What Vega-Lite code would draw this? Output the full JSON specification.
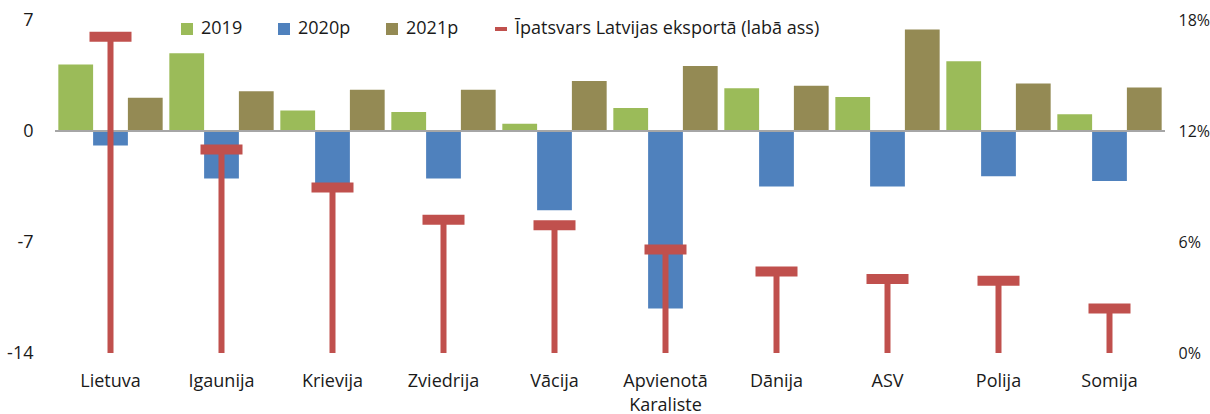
{
  "$schema": "https://vega.github.io/schema/vega-lite/v6.json",
  "width": 1110,
  "height": 333,
  "autosize": "none",
  "padding": {"left": 55, "top": 20, "right": 45, "bottom": 61},
  "config": {
    "font": "Open Sans",
    "view": {"stroke": null},
    "axis": {"labelFontSize": 18, "labelColor": "#1a1a1a", "domain": false, "ticks": false, "grid": false, "title": null, "labelFont": "Open Sans"},
    "legend": {"labelFontSize": 18, "labelColor": "#1a1a1a", "labelFont": "Open Sans", "labelLimit": 500}
  },
  "datasets": {
    "growth": [
      {"country": "Lietuva", "year": "2019", "value": 4.2},
      {"country": "Lietuva", "year": "2020p", "value": -0.92},
      {"country": "Lietuva", "year": "2021p", "value": 2.1},
      {"country": "Igaunija", "year": "2019", "value": 4.9},
      {"country": "Igaunija", "year": "2020p", "value": -3.0},
      {"country": "Igaunija", "year": "2021p", "value": 2.5},
      {"country": "Krievija", "year": "2019", "value": 1.3},
      {"country": "Krievija", "year": "2020p", "value": -3.5},
      {"country": "Krievija", "year": "2021p", "value": 2.6},
      {"country": "Zviedrija", "year": "2019", "value": 1.2},
      {"country": "Zviedrija", "year": "2020p", "value": -3.0},
      {"country": "Zviedrija", "year": "2021p", "value": 2.6},
      {"country": "Vācija", "year": "2019", "value": 0.45},
      {"country": "Vācija", "year": "2020p", "value": -5.0},
      {"country": "Vācija", "year": "2021p", "value": 3.15},
      {"country": "Apvienotā Karaliste", "year": "2019", "value": 1.45},
      {"country": "Apvienotā Karaliste", "year": "2020p", "value": -11.2},
      {"country": "Apvienotā Karaliste", "year": "2021p", "value": 4.1},
      {"country": "Dānija", "year": "2019", "value": 2.7},
      {"country": "Dānija", "year": "2020p", "value": -3.5},
      {"country": "Dānija", "year": "2021p", "value": 2.85},
      {"country": "ASV", "year": "2019", "value": 2.15},
      {"country": "ASV", "year": "2020p", "value": -3.5},
      {"country": "ASV", "year": "2021p", "value": 6.4},
      {"country": "Polija", "year": "2019", "value": 4.4},
      {"country": "Polija", "year": "2020p", "value": -2.85},
      {"country": "Polija", "year": "2021p", "value": 3.0},
      {"country": "Somija", "year": "2019", "value": 1.05},
      {"country": "Somija", "year": "2020p", "value": -3.15},
      {"country": "Somija", "year": "2021p", "value": 2.75}
    ],
    "share": [
      {"country": "Lietuva", "share": 17.1},
      {"country": "Igaunija", "share": 11.0},
      {"country": "Krievija", "share": 8.95},
      {"country": "Zviedrija", "share": 7.2},
      {"country": "Vācija", "share": 6.9},
      {"country": "Apvienotā Karaliste", "share": 5.6},
      {"country": "Dānija", "share": 4.4},
      {"country": "ASV", "share": 4.0},
      {"country": "Polija", "share": 3.9},
      {"country": "Somija", "share": 2.4}
    ]
  },
  "layer": [
    {
      "data": {"name": "growth"},
      "layer": [
        {
          "mark": {"type": "bar"},
          "encoding": {
            "x": {
              "field": "country", "type": "nominal",
              "scale": {"domain": ["Lietuva", "Igaunija", "Krievija", "Zviedrija", "Vācija", "Apvienotā Karaliste", "Dānija", "ASV", "Polija", "Somija"], "paddingInner": 0.06, "paddingOuter": 0.03},
              "axis": {"labelAngle": 0, "labelPadding": 19, "labelBaseline": "top", "labelLineHeight": 24,
                "labelExpr": "datum.value == 'Apvienotā Karaliste' ? ['Apvienotā', 'Karaliste'] : datum.value"}
            },
            "xOffset": {"field": "year", "type": "nominal", "sort": ["2019", "2020p", "2021p"], "scale": {"paddingInner": 0, "paddingOuter": 0}},
            "y": {
              "field": "value", "type": "quantitative",
              "scale": {"domain": [-14, 7], "nice": false, "zero": false},
              "axis": {"orient": "left", "values": [-14, -7, 0, 7], "labelPadding": 22, "labelExpr": "datum.value + ''"}
            },
            "fill": {
              "field": "year", "type": "nominal",
              "scale": {"domain": ["2019", "2020p", "2021p"], "range": ["#9BBB59", "#4F81BD", "#948A54"]},
              "legend": {"orient": "none", "legendX": 123, "legendY": 0, "direction": "horizontal", "columns": 3, "columnPadding": 32, "symbolType": "square", "symbolSize": 144, "symbolStrokeWidth": 0, "labelOffset": 5, "title": null, "padding": 0}
            }
          }
        },
        {
          "data": {"values": [{"zero": 0}]},
          "mark": {"type": "rule", "color": "#A6A6A6", "strokeWidth": 2},
          "encoding": {"y": {"field": "zero", "type": "quantitative"}}
        }
      ]
    },
    {
      "data": {"name": "share"},
      "layer": [
        {
          "mark": {"type": "rule", "strokeWidth": 6},
          "encoding": {
            "x": {"field": "country", "type": "nominal"},
            "y": {
              "field": "share", "type": "quantitative",
              "scale": {"domain": [0, 18], "nice": false},
              "axis": {"orient": "right", "values": [0, 6, 12, 18], "labelPadding": 13, "labelFontSize": 16, "labelExpr": "datum.value + '%'"}
            },
            "y2": {"datum": 0},
            "stroke": {
              "datum": "Īpatsvars Latvijas eksportā (labā ass)",
              "scale": {"range": ["#C0504D"]},
              "legend": {"orient": "none", "legendX": 437, "legendY": 0, "symbolType": "stroke", "symbolSize": 144, "symbolStrokeWidth": 4, "labelOffset": 5, "title": null, "padding": 0}
            }
          }
        },
        {
          "mark": {"type": "tick", "color": "#C0504D", "size": 42, "thickness": 10, "orient": "horizontal", "opacity": 1},
          "encoding": {
            "x": {"field": "country", "type": "nominal"},
            "y": {"field": "share", "type": "quantitative"}
          }
        }
      ]
    }
  ],
  "resolve": {"scale": {"y": "independent"}}
}
